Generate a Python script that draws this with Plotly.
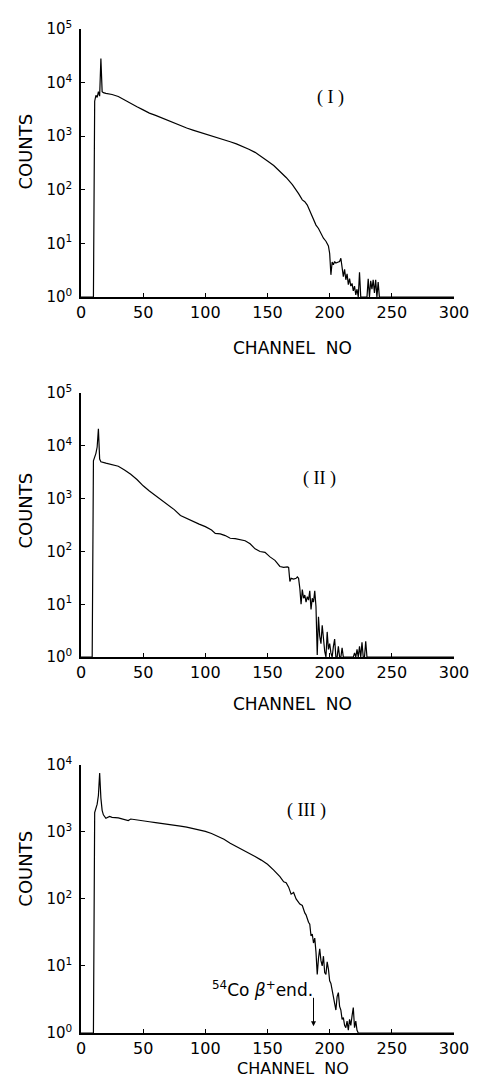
import plotly.graph_objects as go

# ---------------- data ----------------
ch_I = [0, 9, 10, 11, 12, 13, 14, 15, 16, 17, 18, 20, 25, 30, 35, 40, 45, 50, 55, 60,
        65, 70, 75, 80, 85, 90, 95, 100, 105, 110, 115, 120, 125, 130, 135, 140, 145,
        150, 155, 160, 165, 170, 173, 175, 178, 180, 182, 185, 187, 189, 191, 193, 195,
        197, 199, 200, 201, 202, 203, 204, 205, 207, 208, 209, 210, 211, 212, 213, 214,
        215, 216, 217, 218, 219, 220, 221, 222, 223, 224, 225, 230, 231, 232, 233, 234,
        235, 236, 237, 238, 239, 240, 300]
counts_I = [1, 1, 1, 4500, 5800, 5300, 6800, 5600, 28000, 6800, 6500, 6300, 6000, 5500,
            4700, 4050, 3550, 3100, 2700, 2450, 2200, 1950, 1750, 1550, 1420, 1300, 1200,
            1100, 1030, 950, 870, 790, 720, 650, 570, 500, 420, 345, 285, 225, 170, 125,
            100, 85, 65, 60, 52, 36, 28, 22, 19, 15, 12.5, 11, 9, 6.5, 2.6, 4.5, 4.0, 4.6,
            4.3, 4.5, 4.6, 5.3, 3.5, 2.4, 3.3, 2.1, 2.7, 1.7, 2.2, 1.6, 1.8, 1.3, 1.6, 1.1,
            1.4, 1.0, 2.9, 1.0, 1.0, 2.2, 1.0, 2.0, 1.4, 2.1, 1.2, 2.1, 1.0, 1.9, 1.0, 1]

ch_II = [0, 9, 10, 11, 12, 13, 14, 15, 16, 20, 25, 30, 35, 40, 45, 50, 55, 60, 65, 70, 75,
         80, 85, 90, 95, 100, 105, 108, 112, 116, 120, 124, 128, 132, 136, 140, 144, 148,
         152, 156, 160, 163, 166, 167, 168, 169, 171, 173, 174, 175, 176, 177, 178, 179,
         180, 181, 182, 183, 184, 185, 186, 187, 188, 189, 190, 191, 192, 193, 194, 195,
         196, 197, 198, 199, 200, 201, 202, 203, 204, 205, 206, 207, 208, 209, 210, 211,
         218, 219, 220, 221, 222, 223, 224, 225, 226, 227, 228, 229, 230, 300]
counts_II = [1, 1, 5200, 6000, 7200, 9500, 21000, 5600, 5000, 4700, 4400, 4100, 3500, 2900,
             2300, 1750, 1400, 1150, 950, 780, 620, 480, 420, 370, 330, 295, 255, 220, 215,
             200, 178, 175, 165, 160, 140, 112, 100, 96, 79, 68, 52, 50, 51, 50, 27, 31, 30,
             31, 33, 31, 20, 10, 19, 13, 15, 11, 14, 12, 18, 8, 13, 11, 18, 9, 1.1, 5.8,
             2.5, 1.8, 4, 2.2, 1.3, 1, 3, 1.4, 1.8, 1.2, 1, 1.6, 2.2, 1, 1, 1.6, 1, 1, 1.5,
             1, 1, 1, 1.2, 1, 1.4, 1, 1.6, 1, 1.9, 1, 1, 2.0, 1, 1]

ch_III = [0, 10, 11, 12, 13, 14, 15, 16, 17, 18, 20, 23, 25, 30, 35, 38, 40, 45, 50, 55,
          60, 65, 70, 75, 80, 85, 90, 95, 100, 105, 110, 115, 120, 125, 130, 135, 140, 145,
          150, 155, 160, 163, 165, 167, 169, 171, 173, 176, 178, 180, 181, 183, 184, 185,
          186, 187, 188, 189, 190, 191, 192, 193, 194, 195, 196, 197, 198, 199, 200, 201,
          202, 203, 204, 205, 206, 207, 208, 209, 210, 211, 212, 213, 214, 215, 216, 217,
          218, 219, 220, 221, 222, 223, 300]
counts_III = [1, 1, 1950, 2200, 2600, 3500, 7600, 3200, 2100, 1800, 1600, 1700, 1650, 1620,
              1550, 1480, 1560, 1500, 1450, 1420, 1380, 1330, 1300, 1260, 1220, 1180, 1130,
              1080, 1020, 950, 870, 780, 680, 610, 550, 490, 430, 380, 330, 270, 215, 180,
              175, 150, 118, 125, 100, 84, 80, 62, 58, 45, 42, 28, 30, 22, 26, 16, 7.5, 13,
              18, 12, 10, 14, 8, 7.5, 11.5, 9, 6, 5.5, 4.5, 3.3, 2.8, 2.2, 3.5, 4, 2.5, 2.2,
              1.6, 1.7, 1.3, 1.2, 1.5, 1.1, 1.6, 1.3, 1.8, 2.4, 1.2, 1.5, 1.1, 1, 1]

x_ticks = [0, 50, 100, 150, 200, 250, 300]
panel_labels = ["( I )", "( II )", "( III )"]
beta_end_channel = 187

# ---------------- figure ----------------
# The page body has an 8 px margin; all positions below are page pixels,
# converted to figure pixels by subtracting OFF.
OFF = 8
W, H = 487 - 2 * OFF, 1087 - 2 * OFF
PL, PR = 81, 460            # plot area left/right (page px)
ML = PL - OFF
MR = W - (PR - OFF)
MT = 18 - OFF
MB = H - (1033 - OFF)
PH = H - MT - MB
PW = PR - PL


def pfrac(ypx):
    return (H - MB - (ypx - OFF)) / PH


def xfrac(xpx):
    return (xpx - PL) / PW


panels = [
    dict(x=ch_I, y=counts_I, top=18, bot=289, dec=5),
    dict(x=ch_II, y=counts_II, top=386, bot=653, dec=5),
    dict(x=ch_III, y=counts_III, top=762, bot=1033, dec=4),
]

FONT = "DejaVu Sans"
fig = go.Figure()
layout = dict(
    width=W, height=H,
    margin=dict(l=ML, r=MR, t=MT, b=MB),
    paper_bgcolor="white", plot_bgcolor="white",
    showlegend=False,
    font=dict(family=FONT, color="black"),
)

for i, p in enumerate(panels):
    n = "" if i == 0 else str(i + 1)
    fig.add_trace(go.Scatter(x=p["x"], y=p["y"], mode="lines",
                             line=dict(color="black", width=1.2),
                             xaxis="x" + n, yaxis="y" + n, hoverinfo="skip"))
    layout["xaxis" + n] = dict(
        domain=[0, 1], anchor="y" + n, range=[0, 300],
        tickvals=x_ticks, ticktext=[str(v) for v in x_ticks],
        showgrid=False, zeroline=False, showline=True, linecolor="black", linewidth=1.5,
        ticks="inside", ticklen=4, tickcolor="black", tickwidth=1,
        tickfont=dict(family=FONT, size=16, color="black"),
    )
    tv = [10 ** k for k in range(p["dec"] + 1)]
    layout["yaxis" + n] = dict(
        domain=[pfrac(p["bot"]), pfrac(p["top"])], anchor="x" + n,
        type="log", range=[0, p["dec"]],
        tickvals=tv, ticktext=["10<sup>%d</sup>" % k for k in range(p["dec"] + 1)],
        showgrid=False, zeroline=False, showline=True, linecolor="black", linewidth=1.5,
        ticks="inside", ticklen=4, tickcolor="black", tickwidth=1,
        tickfont=dict(family=FONT, size=15, color="black"),
        ticklabelstandoff=4,
    )

fig.update_layout(**layout)

ann = []
# y titles
for ypx in [142, 505, 867]:
    ann.append(dict(text="COUNTS", xref="paper", yref="paper", x=xfrac(25),
                    y=pfrac(ypx), textangle=-90, showarrow=False,
                    font=dict(family=FONT, size=18, color="black"),
                    xanchor="center", yanchor="middle"))
# x titles
for ypx, fs in [(340, 17), (700, 17), (1069, 16)]:
    ann.append(dict(text="CHANNEL  NO", xref="paper", yref="paper", x=xfrac(296),
                    y=pfrac(ypx), showarrow=False,
                    font=dict(family=FONT, size=fs, color="black"),
                    xanchor="center", yanchor="middle"))
# panel labels
lab_pos = [(201, 3.73, "x", "y"), (191.6, 3.39, "x2", "y2"), (181, 3.32, "x3", "y3")]
for (lx, ly, xr, yr), t in zip(lab_pos, panel_labels):
    ann.append(dict(text=t, x=lx, y=ly, xref=xr, yref=yr, showarrow=False,
                    font=dict(family="Liberation Serif", size=18, color="black"),
                    xanchor="center", yanchor="middle"))
# beta end annotation
ann.append(dict(text="<sup>54</sup>Co <i>β</i><sup>+</sup>end.", x=beta_end_channel + 1,
                y=0.66, xref="x3", yref="y3", showarrow=False, xanchor="right",
                yanchor="middle", font=dict(family=FONT, size=17, color="black")))
ann.append(dict(text="", x=beta_end_channel, y=0.1, xref="x3", yref="y3",
                showarrow=True, ax=0, ay=-30, arrowhead=2, arrowsize=1,
                arrowwidth=1, arrowcolor="black"))
fig.update_layout(annotations=ann)

fig.write_html("out.html")
